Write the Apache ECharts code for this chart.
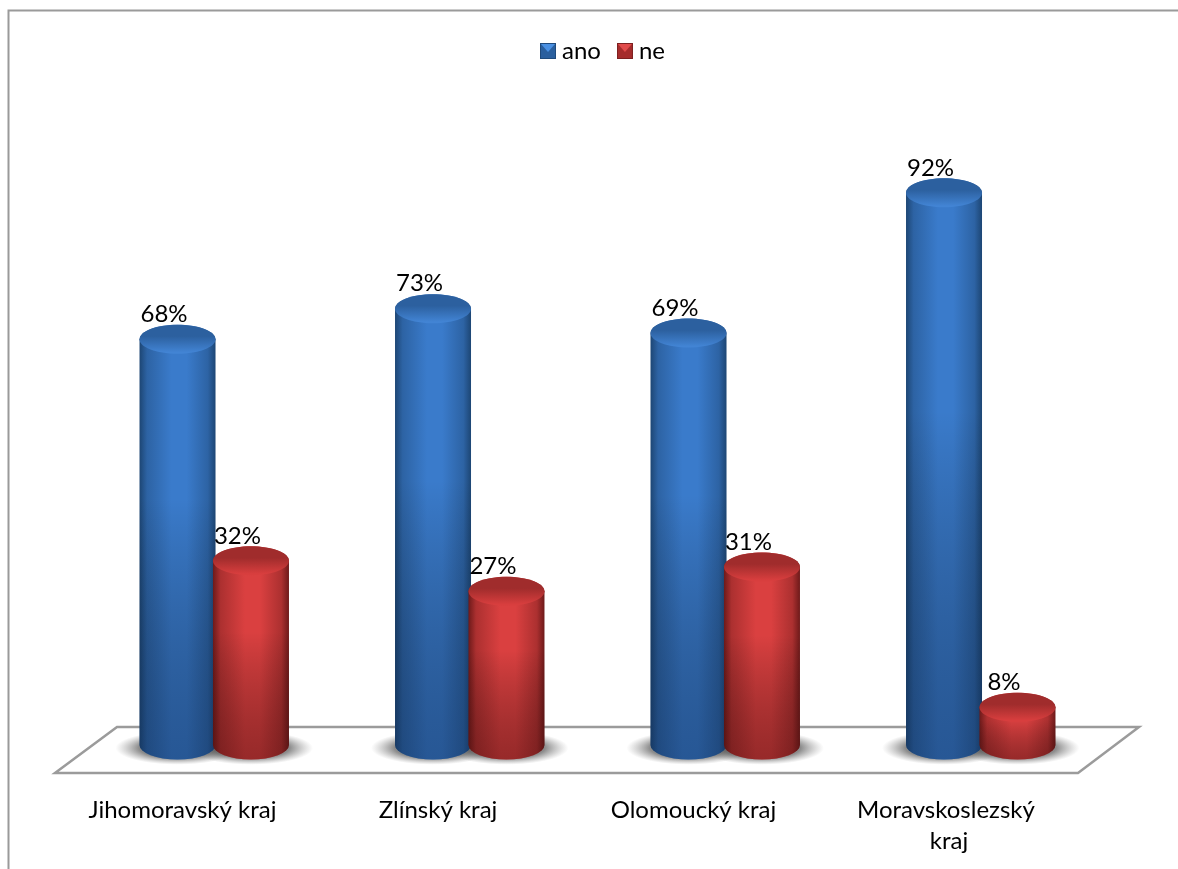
<!DOCTYPE html>
<html><head><meta charset="utf-8">
<style>html,body{margin:0;padding:0;background:#fff}#c{width:1178px;height:869px}</style>
<script src="https://cdn.jsdelivr.net/npm/echarts@6/dist/echarts.min.js"></script>
</head><body><div id="c"></div>
<script>
const categories = ['Jihomoravský kraj','Zlínský kraj','Olomoucký kraj','Moravskoslezský kraj'];
const ano = [68,73,69,92];
const ne = [32,27,31,8];
const FONT = 'Lato, "Open Sans", sans-serif';
const palettes = {
  ano:{edge:'#1d4674',mid:'#2d63a4',light:'#3a7bcb',capTop:'#2c609f',capFront:'#4284d4',foot:'rgba(16,44,84,0.45)'},
  ne:{edge:'#6e1a1a',mid:'#ac3030',light:'#da4040',capTop:'#a02c2c',capFront:'#d83e3e',foot:'rgba(70,14,14,0.45)'}
};
function swatch(a,b,c){
  const s=`<svg xmlns="http://www.w3.org/2000/svg" width="16" height="16"><rect width="16" height="16" fill="${a}"/><path d="M1 1H15L8 9Z" fill="${b}"/><rect x=".5" y=".5" width="15" height="15" fill="none" stroke="${c}"/></svg>`;
  return 'image://data:image/svg+xml;charset=utf-8,'+encodeURIComponent(s);
}
function cyl(name,offset,order,depth){
  const p=palettes[name];
  return function(params,api){
    const rx=38, ry=14.5;
    const cat=api.value(0), val=api.value(1);
    const base=api.coord([cat,0]), top=api.coord([cat,val]);
    const x=base[0]+api.size([1,0])[0]*offset;
    const yBase=base[1]-8, yTop=top[1]+depth;
    const body=`M${x-rx} ${yTop}L${x-rx} ${yBase}A${rx} ${ry} 0 0 0 ${x+rx} ${yBase}L${x+rx} ${yTop}A${rx} ${ry} 0 0 0 ${x-rx} ${yTop}Z`;
    const rect={x:x-rx,y:yTop-ry,width:2*rx,height:yBase-yTop+2*ry};
    const hGrad={type:'linear',x:0,y:0,x2:1,y2:0,colorStops:[
      {offset:0,color:p.edge},{offset:.1,color:p.mid},{offset:.42,color:p.light},{offset:.62,color:p.light},{offset:.9,color:p.mid},{offset:1,color:p.edge}]};
    const vGrad={type:'linear',x:0,y:0,x2:0,y2:1,colorStops:[
      {offset:0,color:'rgba(0,0,0,0)'},{offset:.4,color:'rgba(0,0,0,0)'},{offset:1,color:p.foot}]};
    const capGrad={type:'linear',x:0,y:0,x2:0,y2:1,colorStops:[
      {offset:0,color:p.capTop},{offset:.4,color:p.capTop},{offset:.95,color:p.capFront},{offset:1,color:p.capFront}]};
    const shade={type:'radial',x:.5,y:.5,r:.5,colorStops:[
      {offset:0,color:'rgba(70,70,70,0.85)'},{offset:.62,color:'rgba(90,90,90,0.7)'},{offset:1,color:'rgba(140,140,140,0)'}]};
    return {type:'group',children:[
      {type:'circle',shape:{cx:0,cy:0,r:rx+24},x:x,y:yBase+3,scaleY:.27,z2:1,silent:true,style:{fill:shade}},
      {type:'path',shape:Object.assign({pathData:body,layout:'cover'},rect),z2:10+order,style:{fill:hGrad}},
      {type:'path',shape:Object.assign({pathData:body,layout:'cover'},rect),z2:10+order,style:{fill:vGrad}},
      {type:'ellipse',shape:{cx:x,cy:yTop,rx:rx,ry:ry},z2:10+order,style:{fill:capGrad}},
      {type:'text',z2:30,style:{text:val+'%',x:x-13.5,y:yTop-25,align:'center',verticalAlign:'middle',
        font:'24px '+FONT,fill:'#000'}}
    ]};
  };
}
const chart=echarts.init(document.getElementById('c'),null,{renderer:'canvas'});
chart.setOption({
  animation:false,
  backgroundColor:'#fff',
  graphic:[
    {type:'polyline',z:0,shape:{points:[[8.5,869],[8.5,10.5],[1178,10.5]]},style:{stroke:'#9a9a9a',lineWidth:2,fill:null}},
    {type:'polygon',z:0,shape:{points:[[55,773],[1078,773],[1139,727],[117,727]]},style:{stroke:'#9b9b9b',lineWidth:2.5,fill:'#fff'}}
  ],
  legend:{top:34,left:535,itemWidth:16,itemHeight:16,itemGap:16,
    textStyle:{fontFamily:FONT,fontSize:24,color:'#000',padding:[0,0,0,1]},
    data:[{name:'ano',icon:swatch('#2a5f9e','#4a90e2','#1f4a7c')},{name:'ne',icon:swatch('#a52c2c','#e04a4a','#7c2020')}]},
  grid:{left:54.75,right:101.25,top:143,bottom:116},
  xAxis:{type:'category',data:categories,
    axisLine:{show:false},axisTick:{show:false},
    axisLabel:{interval:0,width:205,overflow:'break',margin:42,lineHeight:31,fontFamily:FONT,fontSize:24,color:'#000',verticalAlign:'top'}},
  yAxis:{type:'value',min:0,max:100,show:false,splitLine:{show:false}},
  series:[
    {name:'ano',type:'custom',data:categories.map((c,i)=>[i,ano[i]]),encode:{x:0,y:1},clip:false,renderItem:cyl('ano',-0.0195,0,1),itemStyle:{color:'#2f68ac'}},
    {name:'ne',type:'custom',data:categories.map((c,i)=>[i,ne[i]]),encode:{x:0,y:1},clip:false,renderItem:cyl('ne',0.268,1,3),itemStyle:{color:'#b03232'}}
  ]
});
</script></body></html>
